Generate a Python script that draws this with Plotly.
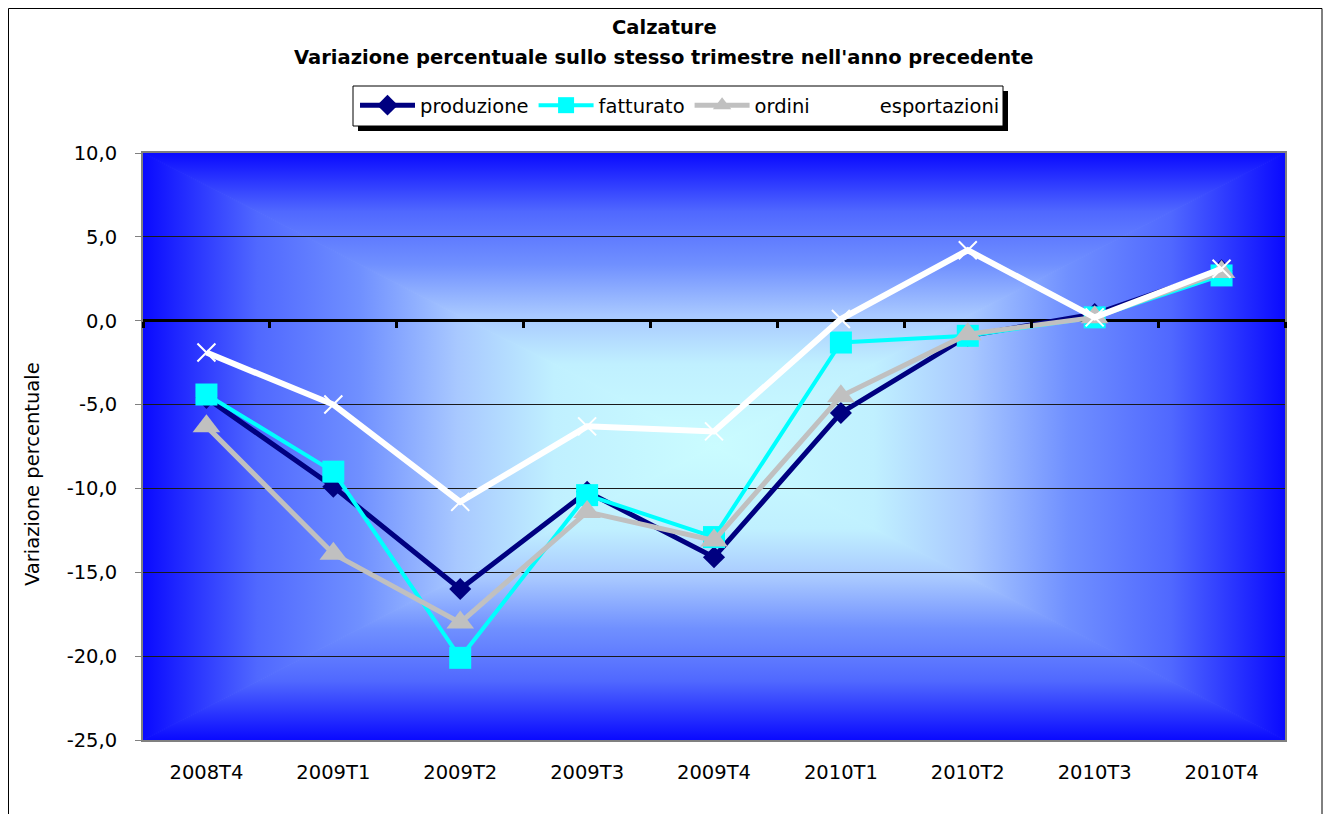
import base64
import plotly.graph_objects as go

# Data
quarters = ['2008T4', '2009T1', '2009T2', '2009T3', '2009T4',
            '2010T1', '2010T2', '2010T3', '2010T4']
produzione = [-4.6, -9.9, -16.0, -10.2, -14.1, -5.5, -0.9, 0.4, 3.0]
fatturato = [-4.4, -9.0, -20.1, -10.4, -12.9, -1.3, -0.9, 0.2, 2.7]
ordini = [-6.3, -13.9, -18.0, -11.4, -13.1, -4.5, -0.8, 0.2, 2.9]
esportazioni = [-1.9, -5.0, -10.8, -6.3, -6.6, 0.1, 4.2, 0.2, 3.1]
y_ticks = [-25, -20, -15, -10, -5, 0, 5, 10]
y_labels = ['-25,0', '-20,0', '-15,0', '-10,0', '-5,0', '0,0', '5,0', '10,0']

# The page body adds an 8px margin, so the figure starts at (8, 8)
OFF = 8
W, H = 1331 - OFF, 814 - OFF
L, R, T, B = 143, 46, 153, 74      # plot area edges in page pixels
PW, PH = 1331 - L - R, 814 - T - B
FONT = 'DejaVu Sans'
FS = 19.5


def px(x):
    return (x - L) / PW


def py(y):
    return 1 - (y - T) / PH


def rect(x0, y0, x1, y1, fill, line_w=0, layer='above'):
    return dict(type='rect', xref='paper', yref='paper',
                x0=px(x0), x1=px(x1), y0=py(y0), y1=py(y1),
                fillcolor=fill, line=dict(color='black', width=line_w), layer=layer)


# "from center" gradient background, as an svg with four triangles
cx, cy = PW / 2, PH / 2
stops = ''.join(
    f'<stop offset="{o}" stop-color="{c}"/>'
    for o, c in [(0, '#0a0aff'), (0.2, '#5068ff'), (0.38, '#7090ff'),
                 (0.55, '#a8c8ff'), (0.72, '#c0f0ff'), (1, '#cafcff')])
grads = [('gt', 0, 0, 0, cy, f'0,0 {PW},0 {cx},{cy}'),
         ('gb', 0, PH, 0, cy, f'0,{PH} {PW},{PH} {cx},{cy}'),
         ('gl', 0, 0, cx, 0, f'0,0 0,{PH} {cx},{cy}'),
         ('gr', PW, 0, cx, 0, f'{PW},0 {PW},{PH} {cx},{cy}')]
defs = ''.join(
    f'<linearGradient id="{g}" gradientUnits="userSpaceOnUse" '
    f'x1="{a}" y1="{b}" x2="{c}" y2="{d}">{stops}</linearGradient>'
    for g, a, b, c, d, _ in grads)
polys = ''.join(
    f'<polygon points="{p}" fill="url(#{g})" stroke="url(#{g})" stroke-width="1"/>'
    for g, _, _, _, _, p in grads)
svg = (f'<svg xmlns="http://www.w3.org/2000/svg" width="{PW}" height="{PH}" '
       f'viewBox="0 0 {PW} {PH}" preserveAspectRatio="none"><defs>{defs}</defs>'
       f'{polys}</svg>')
bg_src = 'data:image/svg+xml;base64,' + base64.b64encode(svg.encode()).decode()

fig = go.Figure()

series = [
    ('produzione', produzione, '#000080', 5, 'diamond', 17, None),
    ('fatturato', fatturato, '#00ffff', 4, 'square', 22, None),
    ('ordini', ordini, '#c0c0c0', 5, 'triangle-up', 24, None),
    ('esportazioni', esportazioni, '#ffffff', 6, 'x-thin-open', 18, 2),
]
for name, vals, color, lw, sym, size, mlw in series:
    marker = dict(symbol=sym, size=size, color=color)
    if mlw:
        marker['line'] = dict(color=color, width=mlw)
    fig.add_trace(go.Scatter(x=quarters, y=vals, name=name, mode='lines+markers',
                             line=dict(color=color, width=lw), marker=marker))

# invisible trace that carries the category ticks drawn on the zero line
fig.add_trace(go.Scatter(x=quarters, y=esportazioni, xaxis='x2', mode='lines',
                         opacity=0, showlegend=False, hoverinfo='skip'))

fig.update_layout(
    width=W, height=H,
    margin=dict(l=L - OFF, r=R, t=T - OFF, b=B),
    paper_bgcolor='white',
    plot_bgcolor='rgba(0,0,0,0)',
    font=dict(family=FONT, size=FS, color='black'),
    showlegend=True,
    legend=dict(orientation='h', x=px(355), xanchor='left', y=py(86), yanchor='top',
                bgcolor='rgba(0,0,0,0)', borderwidth=0,
                font=dict(family=FONT, size=FS), itemwidth=55, tracegroupgap=0),
    xaxis=dict(type='category', categoryorder='array', categoryarray=quarters,
               range=[-0.5, 8.5], showgrid=False, zeroline=False,
               showline=True, linecolor='#808080', linewidth=2, mirror=True,
               ticks='outside', ticklen=14, tickcolor='rgba(0,0,0,0)',
               tickfont=dict(family=FONT, size=FS)),
    xaxis2=dict(type='category', overlaying='x', matches='x', anchor='free',
                position=py(T + PH * 10 / 35), side='bottom', showline=False,
                showgrid=False, zeroline=False, showticklabels=False,
                ticks='outside', tickson='boundaries', ticklen=6, tickwidth=3,
                tickcolor='black'),
    yaxis=dict(range=[-25, 10], tickvals=y_ticks, ticktext=y_labels,
               showgrid=True, gridcolor='#1a1a1a', gridwidth=1,
               zeroline=True, zerolinecolor='black', zerolinewidth=3,
               showline=True, linecolor='#808080', linewidth=2, mirror=True,
               ticks='outside', ticklen=6, tickcolor='#808080',
               ticklabelstandoff=14, tickfont=dict(family=FONT, size=FS)),
    images=[dict(source=bg_src, xref='paper', yref='paper', x=0, y=1,
                 sizex=1, sizey=1, sizing='stretch', layer='below')],
    annotations=[
        dict(text='<b>Calzature</b>', xref='paper', yref='paper',
             x=px(664), y=py(28), xanchor='center', yanchor='middle',
             showarrow=False, font=dict(family=FONT, size=FS)),
        dict(text="<b>Variazione percentuale sullo stesso trimestre nell'anno precedente</b>",
             xref='paper', yref='paper', x=px(664), y=py(58),
             xanchor='center', yanchor='middle', showarrow=False,
             font=dict(family=FONT, size=FS)),
        dict(text='Variazione percentuale', xref='paper', yref='paper',
             x=px(32), y=py(474), xanchor='center', yanchor='middle',
             textangle=-90, showarrow=False, font=dict(family=FONT, size=FS)),
    ],
    shapes=[
        # chart frame and its shadow
        rect(1323, 14, 1331, 830, 'black'),
        rect(OFF + 0.5, OFF + 0.5, 1322, 830, 'rgba(0,0,0,0)', line_w=1),
        # legend box and its shadow
        rect(358, 91, 1008, 131, 'black'),
        rect(353, 86, 1003, 126, 'white', line_w=1),
    ],
)

fig.write_html('out.html')
